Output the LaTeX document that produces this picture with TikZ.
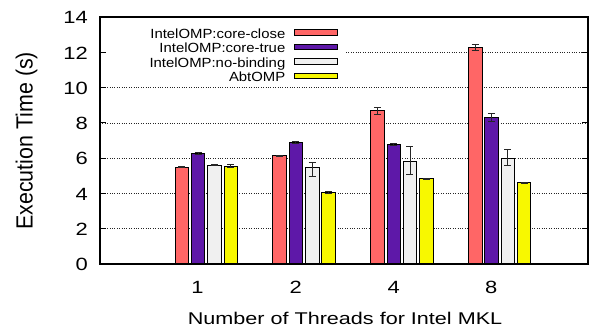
\documentclass[tikz,border=0pt]{standalone}
\usepackage{graphicx}
\usepackage{fontspec}
\setmainfont{Liberation Sans}
\definecolor{cred}{RGB}{255,102,102}
\definecolor{cpur}{RGB}{94,24,168}
\definecolor{cwht}{RGB}{240,240,240}
\definecolor{cyel}{RGB}{248,248,0}
\tikzset{
  gridline/.style={black!85, line width=0.6pt, dash pattern=on 0.8pt off 1.6pt},
  framestyle/.style={black, line width=1.2pt},
  tickstyle/.style={black, line width=0.8pt},
  barstyle/.style={draw=black, line width=0.8pt},
  errstyle/.style={black!85, line width=0.8pt},
  ticklabel/.style={inner sep=0pt, font=\fontsize{17.7}{20}\selectfont},
  legendlabel/.style={inner sep=0pt, anchor=base east, font=\fontsize{13.3}{15}\selectfont},
  legendbox/.style={draw=black, line width=0.8pt}
}
\newcommand\mybar[6]{%
  \pgfmathsetmacro\bx{175+97.8*#1+16.3*#2}%
  \pgfmathsetmacro\bc{\bx+6.75}%
  \draw[barstyle, fill=#6] (\bx,264) rectangle ({\bx+13.5},{264-17.643*#3});
  \draw[errstyle] (\bc,{264-17.643*#4}) -- (\bc,{264-17.643*#5});
  \draw[errstyle] ({\bc-3.5},{264-17.643*#4}) -- ({\bc+3.5},{264-17.643*#4});
  \draw[errstyle] ({\bc-3.5},{264-17.643*#5}) -- ({\bc+3.5},{264-17.643*#5});
}
\begin{document}
\begin{tikzpicture}[x=1pt,y=-1pt]
\useasboundingbox (0,0) rectangle (591,330);
% grid lines
\foreach \v in {2,4,6,8,10} {
  \draw[gridline] (100,{264-17.643*\v}) -- (588,{264-17.643*\v});
}
\draw[gridline] (346,{264-17.643*12}) -- (588,{264-17.643*12});
% ticks
\foreach \v in {2,4,6,8,10,12} {
  \draw[tickstyle] (100,{264-17.643*\v}) -- (106,{264-17.643*\v});
  \draw[tickstyle] (582,{264-17.643*\v}) -- (588,{264-17.643*\v});
}
% bars
\mybar{0}{0}{5.50}{5.47}{5.53}{cred}
\mybar{0}{1}{6.27}{6.24}{6.30}{cpur}
\mybar{0}{2}{5.61}{5.57}{5.65}{cwht}
\mybar{0}{3}{5.55}{5.48}{5.63}{cyel}
\mybar{1}{0}{6.14}{6.11}{6.17}{cred}
\mybar{1}{1}{6.88}{6.82}{6.95}{cpur}
\mybar{1}{2}{5.48}{4.94}{5.76}{cwht}
\mybar{1}{3}{4.06}{4.03}{4.09}{cyel}
\mybar{2}{0}{8.73}{8.50}{8.88}{cred}
\mybar{2}{1}{6.78}{6.75}{6.81}{cpur}
\mybar{2}{2}{5.82}{5.10}{6.65}{cwht}
\mybar{2}{3}{4.84}{4.82}{4.86}{cyel}
\mybar{3}{0}{12.28}{12.13}{12.45}{cred}
\mybar{3}{1}{8.31}{8.09}{8.52}{cpur}
\mybar{3}{2}{5.99}{5.59}{6.48}{cwht}
\mybar{3}{3}{4.61}{4.59}{4.63}{cyel}
% frame
\draw[framestyle] (100,17) rectangle (588,264);
% y tick labels
\foreach \v in {0,2,4,6,8,10,12,14} {
  \node[ticklabel, anchor=east] (yt\v) at (88,{264.7-17.643*\v}) {\scalebox{1.24}[1]{\v}};
}
% x tick labels
\node[ticklabel] (xt1) at (197.5,287.5) {\scalebox{1.24}[1]{1}};
\node[ticklabel] (xt2) at (295.7,287.5) {\scalebox{1.24}[1]{2}};
\node[ticklabel] (xt4) at (393.7,287.5) {\scalebox{1.24}[1]{4}};
\node[ticklabel] (xt8) at (491.3,287.5) {\scalebox{1.24}[1]{8}};
% axis labels
\node[inner sep=0pt, anchor=base, font=\fontsize{17}{20}\selectfont] (xlab) at (345,324.3) {\scalebox{1.27}[1]{Number of Threads for Intel MKL}};
\node[inner sep=0pt, anchor=base, rotate=90, font=\fontsize{20}{24}\selectfont] (ylab) at (32.7,140.8) {\scalebox{1.07}[1.17]{Execution Time (s)}};
% legend
\node[legendlabel] (l1) at (285.5,38.3) {\scalebox{1.12}[1]{IntelOMP:core-close}};
\node[legendlabel] (l2) at (285.5,52.8) {\scalebox{1.12}[1]{IntelOMP:core-true}};
\node[legendlabel] (l3) at (285.5,67.3) {\scalebox{1.12}[1]{IntelOMP:no-binding}};
\node[legendlabel] (l4) at (285.5,81.8) {\scalebox{1.12}[1]{AbtOMP}};
\draw[legendbox, fill=cred] (294,29.5) rectangle (337.3,35.1);
\draw[legendbox, fill=cpur] (294,44.0) rectangle (337.3,49.6);
\draw[legendbox, fill=cwht] (294,58.5) rectangle (337.3,64.1);
\draw[legendbox, fill=cyel] (294,73.0) rectangle (337.3,78.6);
\end{tikzpicture}
\end{document}
